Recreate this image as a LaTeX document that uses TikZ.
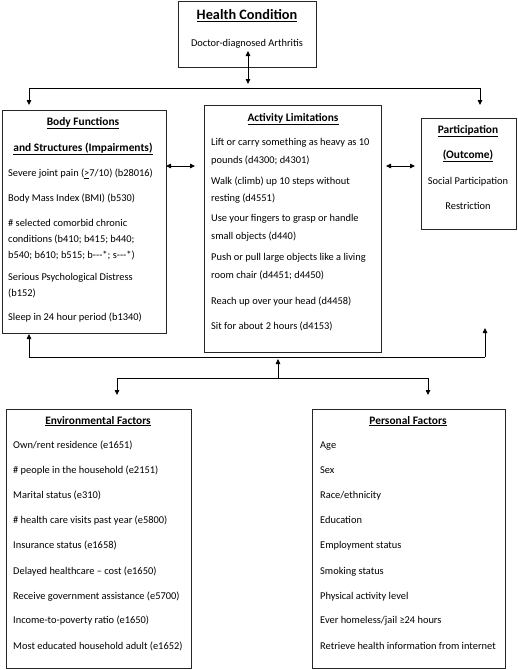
\documentclass[tikz,border=0pt]{standalone}
\usepackage{fontspec}
\setmainfont{Carlito}
\usetikzlibrary{arrows.meta}
\begin{document}
\begin{tikzpicture}[x=1pt,y=-1pt,
  box/.style={draw=black!85,line width=0.8pt,rectangle,inner sep=0pt},
  txt/.style={anchor=west,inner sep=0pt,text height=7pt,text depth=2pt,font=\fontsize{10.4}{12}\selectfont},
  ctxt/.style={anchor=center,inner sep=0pt,text height=7pt,text depth=2pt,font=\fontsize{10.4}{12}\selectfont},
  ttl/.style={anchor=center,inner sep=0pt,text height=8pt,text depth=2pt,font=\fontsize{11.4}{13}\selectfont\bfseries},
  conn/.style={line width=0.8pt,black},
  tip/.style={conn,-{Triangle[length=5pt,width=4.5pt]}},
  dtip/.style={conn,{Triangle[length=5pt,width=4.5pt]}-{Triangle[length=5pt,width=4.5pt]}}]
\useasboundingbox (0,0) rectangle (518,670);
% boxes
\node[box,minimum width=138pt,minimum height=66pt] (hc) at (247,34) {};
\node[box,minimum width=164pt,minimum height=223pt] (body) at (84,221.5) {};
\node[box,minimum width=177pt,minimum height=247pt] (act) at (292.5,228.5) {};
\node[box,minimum width=95pt,minimum height=111pt] (part) at (468.5,173.5) {};
\node[box,minimum width=185pt,minimum height=259pt] (env) at (98.5,538.5) {};
\node[box,minimum width=193pt,minimum height=259pt] (pers) at (408.5,538.5) {};
% health condition
\node[anchor=center,inner sep=0pt,font=\fontsize{14.3}{16}\selectfont\bfseries] (hct) at (247,16) {\underline{Health Condition}};
\node[ctxt] (hcs) at (247,44) {Doctor-diagnosed Arthritis};
% body
\node[ttl] (bt1) at (83,122) {\underline{Body Functions}};
\node[ttl] (bt2) at (83,148) {\underline{and Structures (Impairments)}};
\node[txt] (b1) at (8,174) {Severe joint pain (\underline{>}7/10) (b28016)};
\node[txt] (b2) at (8,199) {Body Mass Index (BMI) (b530)};
\node[txt] (b3) at (8,224) {\# selected comorbid chronic};
\node[txt] (b4) at (8,240) {conditions (b410; b415; b440;};
\node[txt] (b5) at (8,256) {b540; b610; b515; b-{}-{}-*; s-{}-{}-*)};
\node[txt] (b6) at (8,278) {Serious Psychological Distress};
\node[txt] (b7) at (8,294) {(b152)};
\node[txt] (b8) at (8,318) {Sleep in 24 hour period (b1340)};
% activity
\node[ttl] (at) at (293,118) {\underline{Activity Limitations}};
\node[txt] (a1) at (211,143) {Lift or carry something as heavy as 10};
\node[txt] (a2) at (211,161) {pounds (d4300; d4301)};
\node[txt] (a3) at (211,182) {Walk (climb) up 10 steps without};
\node[txt] (a4) at (211,199) {resting (d4551)};
\node[txt] (a5) at (211,219) {Use your fingers to grasp or handle};
\node[txt] (a6) at (211,237) {small objects (d440)};
\node[txt] (a7) at (211,258) {Push or pull large objects like a living};
\node[txt] (a8) at (211,276) {room chair (d4451; d4450)};
\node[txt] (a9) at (211,302) {Reach up over your head (d4458)};
\node[txt] (a10) at (211,327) {Sit for about 2 hours (d4153)};
% participation
\node[ttl] (pt1) at (468,130) {\underline{Participation}};
\node[ttl] (pt2) at (468,155) {\underline{(Outcome)}};
\node[ctxt] (p1) at (468,182) {Social Participation};
\node[ctxt] (p2) at (468,207) {Restriction};
% environmental
\node[ttl] (et) at (98,421) {\underline{Environmental Factors}};
\node[txt] (e1) at (13,446) {Own/rent residence (e1651)};
\node[txt] (e2) at (13,471) {\# people in the household (e2151)};
\node[txt] (e3) at (13,496) {Marital status (e310)};
\node[txt] (e4) at (13,521) {\# health care visits past year (e5800)};
\node[txt] (e5) at (13,546) {Insurance status (e1658)};
\node[txt] (e6) at (13,572) {Delayed healthcare – cost (e1650)};
\node[txt] (e7) at (13,597) {Receive government assistance (e5700)};
\node[txt] (e8) at (13,621) {Income-to-poverty ratio (e1650)};
\node[txt] (e9) at (13,647) {Most educated household adult (e1652)};
% personal
\node[ttl] (prt) at (408,421) {\underline{Personal Factors}};
\node[txt] (r1) at (320,446) {Age};
\node[txt] (r2) at (320,471) {Sex};
\node[txt] (r3) at (320,496) {Race/ethnicity};
\node[txt] (r4) at (320,521) {Education};
\node[txt] (r5) at (320,546) {Employment status};
\node[txt] (r6) at (320,572) {Smoking status};
\node[txt] (r7) at (320,597) {Physical activity level};
\node[txt] (r8) at (320,621) {Ever homeless/jail ≥24 hours};
\node[txt] (r9) at (320,647) {Retrieve health information from internet};
% coordinates for connectors
\coordinate (hcA) at (248,51);
\coordinate (hcB) at (248,84);
\coordinate (tl) at (29,88);
\coordinate (tr) at (480,88);
\coordinate (tlE) at (29,105);
\coordinate (trE) at (480,105);
\coordinate (baL) at (166,166);
\coordinate (baR) at (195,166);
\coordinate (apL) at (386,166);
\coordinate (apR) at (415,166);
\coordinate (fl) at (29,357);
\coordinate (fr) at (485,357);
\coordinate (flE) at (29,334);
\coordinate (frE) at (485,328);
\coordinate (cB) at (278,378);
\coordinate (cT) at (278,359);
\coordinate (ml) at (117,378);
\coordinate (mr) at (428,378);
\coordinate (mlE) at (117,395);
\coordinate (mrE) at (428,395);
% connectors
\draw[dtip] (hcA) -- (hcB);
\draw[conn] (tl) -- (tr);
\draw[tip] (tl) -- (tlE);
\draw[tip] (tr) -- (trE);
\draw[dtip] (baL) -- (baR);
\draw[dtip] (apL) -- (apR);
\draw[conn] (fl) -- (fr);
\draw[tip] (fl) -- (flE);
\draw[tip] (fr) -- (frE);
\draw[tip] (cB) -- (cT);
\draw[conn] (ml) -- (mr);
\draw[tip] (ml) -- (mlE);
\draw[tip] (mr) -- (mrE);
\end{tikzpicture}
\end{document}
